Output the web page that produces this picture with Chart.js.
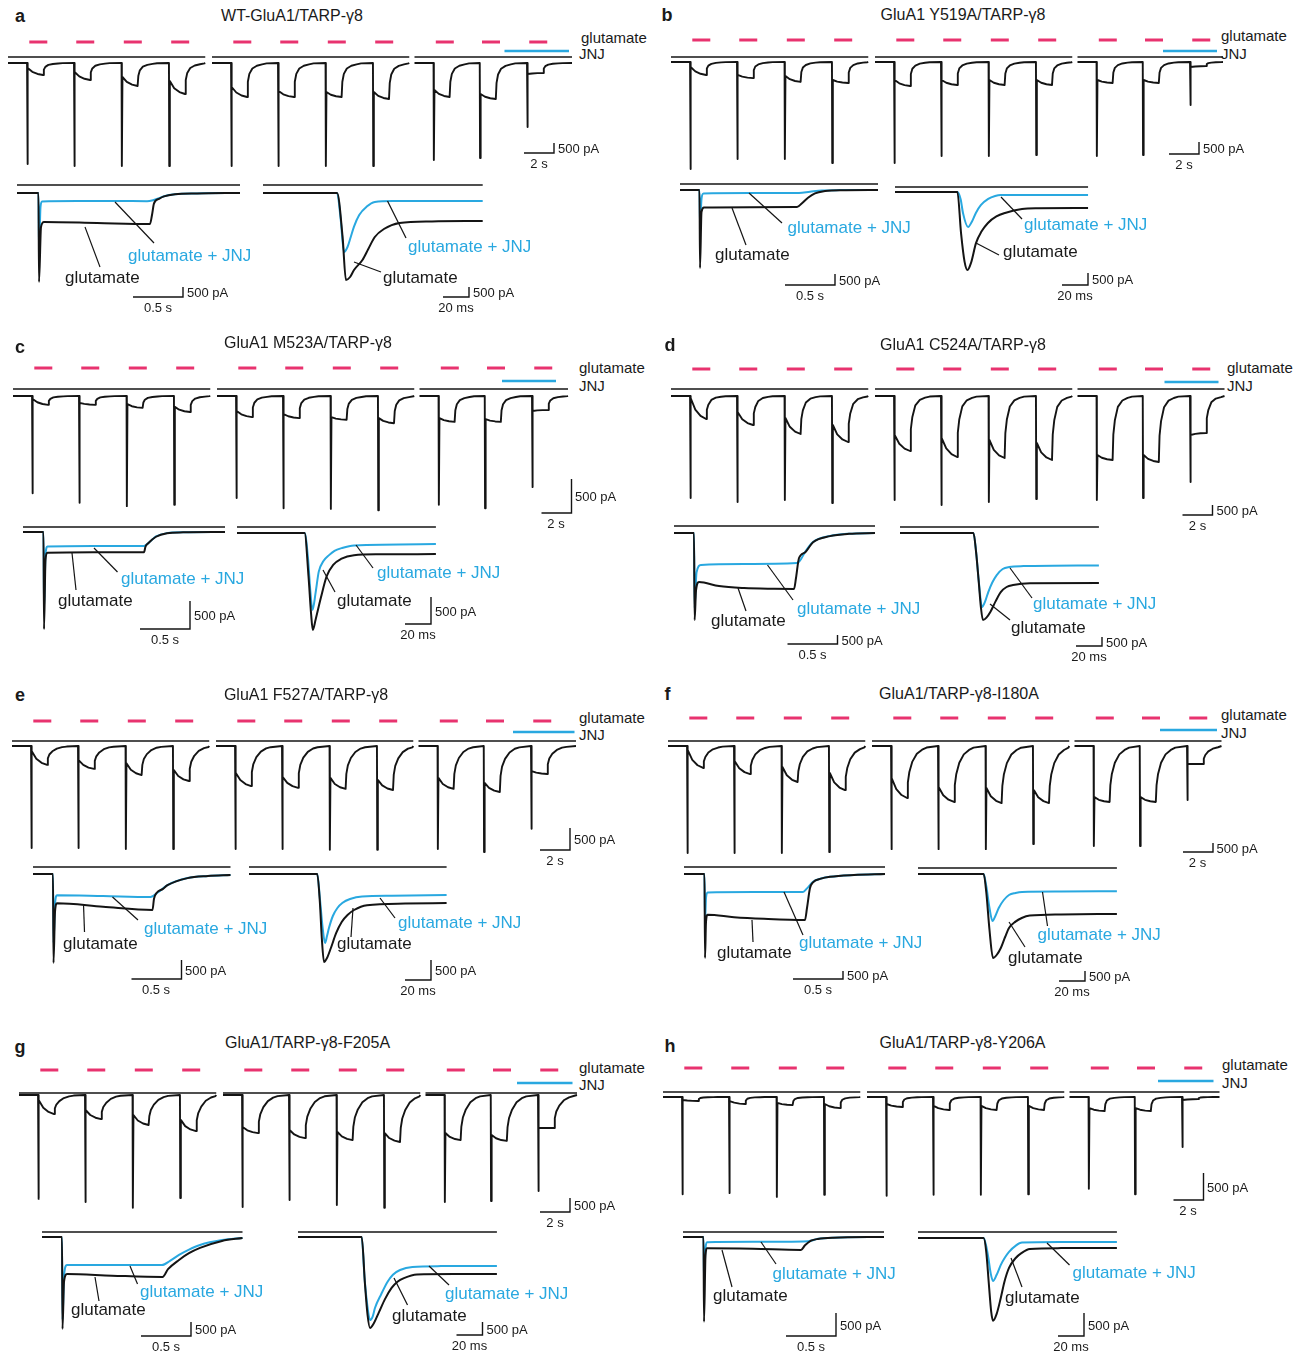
<!DOCTYPE html>
<html lang="en">
<head>
  <meta charset="UTF-8" />
  <title>GluA1/TARP-γ8 currents with JNJ</title>
  <script src="https://cdn.jsdelivr.net/npm/chart.js"></script>
  <style>
    html, body { margin: 0; padding: 0; background: #fff; overflow: hidden; }
    #page {
      position: relative; width: 1307px; height: 1355px;
      font-family: 'Liberation Sans', Arial, sans-serif; color: #1a1a1a;
    }
    #page canvas { position: absolute; }
    .txt { position: absolute; white-space: nowrap; line-height: 1; transform: translateY(-50%); }
    .mid { transform: translate(-50%, -50%); }
  </style>
</head>
<body>
<div id="page"></div>

<script>
  // ---- protocol (shared by all panels), seconds ----
  const sweepStarts = [0, 13.6, 27.1];
  const sweepLengths = [13.15, 13.15];
  const pulseOnsets = [[1.27, 4.4, 7.57, 10.73], [1.27, 4.4, 7.57, 10.73], [1.27, 4.35, 7.5]];
  const glutDuration = 1.07;
  // plateau decay during glutamate: [time after onset, fraction of ssStart->ssEnd]
  const ssShape = [[0.06, 0], [0.35, 0.55], [0.7, 0.85], [1.07, 1]];
  const recoveryTimes = [0, 0.05, 0.15, 0.35, 0.65, 1.0, 1.3];

  // ---- a  WT-GluA1/TARP-γ8 (pA) ----
  const aPeaks = [-5050, -5150, -5150, -5150, -5150, -5150, -5150, -5150, -4850, -4750, -3200];
  const aSsStart = [-250, -450, -700, -900, -1200, -1400, -1450, -1450, -1350, -1550, -550];
  const aSsEnd = [-600, -850, -1150, -1550, -1700, -1700, -1700, -1800, -1700, -1800, -500];
  const aRecovery = [1, 0.55, 0.32, 0.16, 0.08, 0.04, 0.01];
  const aSweep3 = 10.5;
  const aJnj = [6.0, 10.3];
  const aSlowJnj = [[0,0],[0.215,0],[0.22,-2950],[0.235,-700],[0.25,-420],[0.6,-400],[1.0,-400],[1.3,-410],[1.36,-360],[1.42,-260],[1.47,-160],[1.58,-60],[1.8,-20],[2.23,0]];
  const aSlowGlu = [[0,0],[0.215,0],[0.22,-4450],[0.24,-1700],[0.27,-1450],[0.8,-1500],[1.33,-1550],[1.35,-1100],[1.37,-520],[1.42,-290],[1.47,-170],[1.58,-65],[1.8,-22],[2.23,0]];
  const aFastJnj = [[0,0],[57,0],[59.8,-1350],[62.3,-2950],[65,-2700],[67.5,-2200],[70,-1680],[74,-1100],[79.8,-680],[86,-450],[100,-400],[169,-400]];
  const aFastGlu = [[0,0],[57,0],[61.2,-2180],[63.8,-4350],[67,-4200],[70,-3850],[76.5,-3350],[81,-2800],[86,-2200],[93,-1800],[105,-1500],[130,-1420],[169,-1400]];

  // ---- b  GluA1 Y519A/TARP-γ8 ----
  const bPeaks = [-4460, -4040, -4040, -4210, -4210, -3920, -3920, -3880, -3920, -3880, -1790];
  const bSsStart = [-210, -540, -580, -750, -750, -750, -750, -750, -750, -750, -210];
  const bSsEnd = [-540, -670, -830, -875, -1000, -960, -960, -960, -875, -875, -170];
  const bRecovery = [1, 0.5, 0.28, 0.15, 0.07, 0.03, 0.01];
  const bSweep3 = 9.7;
  const bJnj = [5.7, 9.3];
  const bSlowJnj = [[0,0],[0.195,0],[0.2,-1640],[0.215,-400],[0.235,-160],[0.7,-140],[1.19,-140],[1.3,-80],[1.42,-20],[1.6,-5],[1.98,0]];
  const bSlowGlu = [[0,0],[0.195,0],[0.2,-3550],[0.215,-1000],[0.24,-800],[0.7,-780],[1.17,-775],[1.22,-600],[1.28,-350],[1.35,-150],[1.45,-50],[1.6,-10],[1.98,0]];
  const bFastJnj = [[0,0],[48,0],[50.5,-300],[52.3,-875],[56.2,-1460],[59,-1250],[62.2,-875],[66,-550],[71.7,-290],[77,-170],[81.5,-130],[110,-125],[148.5,-125]];
  const bFastGlu = [[0,0],[48,0],[50.8,-1710],[53.5,-2900],[55.8,-3250],[58.5,-2950],[62.3,-2130],[66.5,-1650],[71.5,-1290],[78,-1020],[84.6,-875],[97.7,-710],[110,-680],[148.5,-670]];

  // ---- c  GluA1 M523A/TARP-γ8 ----
  const cPeaks = [-1430, -1570, -1620, -1600, -1500, -1650, -1660, -1680, -1600, -1650, -1340];
  const cSsStart = [-45, -100, -120, -160, -220, -265, -310, -325, -325, -340, -220];
  const cSsEnd = [-130, -130, -175, -235, -310, -325, -350, -400, -380, -380, -205];
  const cRecovery = [1, 0.55, 0.32, 0.16, 0.08, 0.04, 0.01];
  const cSweep3 = 9.9;
  const cJnj = [5.5, 9.1];
  const cSlowJnj = [[0,0],[0.205,0],[0.21,-1395],[0.225,-400],[0.245,-260],[0.7,-250],[1.21,-250],[1.27,-170],[1.33,-80],[1.44,-20],[1.6,-5],[2.02,0]];
  const cSlowGlu = [[0,0],[0.205,0],[0.21,-1735],[0.225,-500],[0.245,-370],[0.7,-360],[1.21,-360],[1.225,-260],[1.25,-205],[1.33,-85],[1.44,-22],[1.6,-6],[2.02,0]];
  const cFastJnj = [[0,0],[52,0],[54.6,-460],[56.5,-1100],[58.1,-1425],[60.5,-1100],[62.9,-715],[66.5,-520],[70.8,-410],[75,-330],[80.5,-280],[90,-230],[153,-205]];
  const cFastGlu = [[0,0],[52,0],[55,-800],[57,-1500],[58.3,-1795],[60.5,-1600],[64.5,-1200],[69,-800],[74,-590],[80,-480],[90,-410],[110,-395],[153,-390]];

  // ---- d  GluA1 C524A/TARP-γ8 ----
  const dPeaks = [-5100, -5300, -5200, -5350, -5200, -5450, -5300, -5150, -5200, -5100, -4300];
  const dSsStart = [-100, -800, -1100, -1450, -1950, -2100, -2200, -2350, -2950, -2950, -1950];
  const dSsEnd = [-1150, -1450, -1900, -2300, -2750, -3050, -3100, -3200, -3200, -3300, -1850];
  const dRecovery = [1, 0.6, 0.38, 0.17, 0.07, 0.03, 0.01];
  const dSweep3 = 9.8;
  const dJnj = [5.8, 9.4];
  const dSlowJnj = [[0,0],[0.2,0],[0.206,-4170],[0.225,-2200],[0.27,-1780],[0.7,-1720],[1.23,-1670],[1.27,-1450],[1.31,-1060],[1.39,-500],[1.56,-170],[1.75,-40],[2.01,0]];
  const dSlowGlu = [[0,0],[0.2,0],[0.206,-4840],[0.22,-3200],[0.25,-2720],[0.45,-2950],[0.7,-3060],[1.0,-3100],[1.2,-3110],[1.22,-2500],[1.25,-1390],[1.31,-1080],[1.39,-510],[1.56,-175],[1.75,-42],[2.01,0]];
  const dFastJnj = [[0,0],[56.5,0],[58.5,-1000],[60.5,-2600],[63.1,-4110],[65.5,-3800],[67.9,-3280],[71,-2750],[74.4,-2335],[79,-2000],[84,-1890],[95,-1840],[153,-1800]];
  const dFastGlu = [[0,0],[56.5,0],[58.5,-1050],[60.5,-2650],[62.2,-4100],[63.8,-4840],[66.5,-4700],[69.5,-4390],[73.5,-3800],[77.5,-3280],[82,-3000],[87,-2890],[100,-2790],[153,-2780]];

  // ---- e  GluA1 F527A/TARP-γ8 ----
  const ePeaks = [-2320, -2320, -2340, -2340, -2340, -2340, -2360, -2360, -2340, -2410, -1880];
  const eSsStart = [-115, -320, -390, -545, -610, -700, -725, -770, -725, -840, -570];
  const eSsEnd = [-430, -520, -660, -795, -910, -950, -975, -1000, -975, -1045, -635];
  const eRecovery = [1, 0.65, 0.45, 0.28, 0.14, 0.06, 0.03];
  const eSweep3 = 10.5;
  const eJnj = [6.3, 10.4];
  const eSlowJnj = [[0,0],[0.2,0],[0.205,-1815],[0.22,-800],[0.24,-560],[0.7,-580],[1.175,-605],[1.25,-480],[1.345,-290],[1.545,-105],[1.75,-50],[1.975,-26]];
  const eSlowGlu = [[0,0],[0.2,0],[0.205,-2340],[0.22,-1000],[0.24,-770],[0.7,-860],[1.195,-945],[1.21,-650],[1.235,-500],[1.3,-390],[1.345,-295],[1.545,-108],[1.75,-52],[1.975,-26]];
  const eFastJnj = [[0,0],[52.5,0],[54.5,-600],[56.5,-1300],[58.5,-1725],[60,-1550],[61.5,-1350],[64.5,-1050],[68,-850],[72,-720],[77.7,-625],[87,-560],[110,-545],[152,-525]];
  const eFastGlu = [[0,0],[52.5,0],[54.5,-700],[56,-1600],[57.7,-2200],[60,-2100],[63,-1850],[67,-1480],[71.3,-1200],[76,-1020],[80.8,-900],[90.8,-780],[120,-740],[152,-725]];

  // ---- f  GluA1/TARP-γ8-I180A ----
  const fPeaks = [-5950, -5950, -5950, -5890, -5730, -5730, -5730, -5450, -5560, -5560, -3000];
  const fSsStart = [-220, -835, -1170, -1500, -1780, -2280, -2330, -2450, -2840, -2840, -1000];
  const fSsEnd = [-1220, -1560, -2000, -2450, -2890, -3110, -3170, -3170, -3110, -3110, -1000];
  const fRecovery = [1, 0.7, 0.5, 0.3, 0.15, 0.07, 0.03];
  const fSweep3 = 9.8;
  const fJnj = [5.7, 9.5];
  const fSlowJnj = [[0,0],[0.205,0],[0.21,-3000],[0.22,-1500],[0.235,-1150],[0.7,-1125],[1.19,-1125],[1.23,-900],[1.29,-480],[1.37,-280],[1.46,-170],[1.7,-60],[2.01,0]];
  const fSlowGlu = [[0,0],[0.205,0],[0.21,-5250],[0.22,-3000],[0.235,-2550],[0.5,-2700],[0.8,-2800],[1.21,-2875],[1.23,-2125],[1.26,-875],[1.29,-520],[1.37,-290],[1.46,-175],[1.7,-62],[2.01,0]];
  const fFastJnj = [[0,0],[50.5,0],[52.5,-600],[55,-1700],[57.3,-2350],[59.5,-2100],[62.1,-1700],[66,-1300],[70,-1050],[75,-950],[80,-900],[110,-880],[153,-860]];
  const fFastGlu = [[0,0],[50.5,0],[52.5,-900],[55,-2800],[57.7,-4200],[60.5,-4050],[63.7,-3700],[67,-3150],[70,-2700],[75,-2380],[79.8,-2200],[86,-2080],[110,-2020],[153,-2000]];

  // ---- g  GluA1/TARP-γ8-F205A ----
  const gPeaks = [-3710, -3820, -4030, -3680, -4000, -3750, -3930, -4030, -3820, -3790, -3430];
  const gSsStart = [-180, -535, -715, -890, -1140, -1250, -1320, -1360, -1360, -1430, -1180];
  const gSsEnd = [-680, -860, -1070, -1290, -1360, -1540, -1610, -1680, -1610, -1640, -1180];
  const gRecovery = [1, 0.7, 0.5, 0.32, 0.16, 0.07, 0.03];
  const gSweep3 = 10.1;
  const gJnj = [6.1, 9.8];
  const gSlowJnj = [[0,0],[0.2,0],[0.205,-2960],[0.22,-1400],[0.25,-1000],[0.7,-1000],[1.2,-1000],[1.28,-850],[1.37,-640],[1.47,-450],[1.58,-285],[1.8,-110],[2.005,-35]];
  const gSlowGlu = [[0,0],[0.2,0],[0.205,-3285],[0.22,-1600],[0.25,-1320],[0.7,-1380],[1.205,-1430],[1.26,-1150],[1.37,-820],[1.47,-580],[1.58,-390],[1.8,-140],[2.005,-35]];
  const gFastJnj = [[0,0],[49,0],[51.2,-1580],[53.5,-2700],[55.4,-3195],[57.5,-3050],[59.2,-2730],[64,-2200],[68.8,-1730],[73,-1450],[78.5,-1270],[88,-1150],[110,-1120],[153,-1115]];
  const gFastGlu = [[0,0],[49,0],[51.5,-1800],[53.5,-3000],[55.4,-3500],[58,-3350],[62.3,-2890],[67,-2380],[72,-1960],[76.5,-1720],[81.5,-1580],[91.5,-1440],[120,-1425],[153,-1425]];

  // ---- h  GluA1/TARP-γ8-Y206A ----
  const hPeaks = [-1800, -1780, -1850, -1810, -1830, -1810, -1810, -1800, -1700, -1800, -925];
  const hSsStart = [-55, -75, -110, -130, -130, -165, -165, -165, -205, -205, -55];
  const hSsEnd = [-75, -130, -150, -205, -185, -240, -240, -240, -260, -260, -40];
  const hRecovery = [1, 0.5, 0.25, 0.12, 0.06, 0.03, 0.01];
  const hSweep3 = 10.0;
  const hJnj = [5.9, 9.6];
  const hSlowJnj = [[0,0],[0.205,0],[0.21,-980],[0.225,-250],[0.24,-115],[0.7,-105],[1.25,-90],[1.35,-40],[1.5,-15],[2.01,0]];
  const hSlowGlu = [[0,0],[0.205,0],[0.21,-1845],[0.225,-400],[0.24,-245],[0.7,-255],[1.18,-280],[1.22,-180],[1.28,-80],[1.35,-42],[1.5,-16],[2.01,0]];
  const hFastJnj = [[0,0],[50.5,0],[52.5,-180],[54.1,-430],[56,-780],[57.7,-935],[60.5,-800],[63.7,-585],[67,-420],[70,-300],[75,-170],[80,-100],[110,-88],[153,-87]];
  const hFastGlu = [[0,0],[50.5,0],[52.5,-300],[54.5,-1000],[56.3,-1600],[57.7,-1800],[60.5,-1650],[63.7,-1300],[66.5,-950],[70,-650],[75,-440],[79.8,-325],[86,-240],[110,-220],[153,-217]];

  const panels = [
    { id: 'a', title: 'WT-GluA1/TARP-γ8', peaks: aPeaks, ssStart: aSsStart, ssEnd: aSsEnd, recovery: aRecovery, sweep3: aSweep3, jnj: aJnj, slowGlu: aSlowGlu, slowJnj: aSlowJnj, fastGlu: aFastGlu, fastJnj: aFastJnj },
    { id: 'b', title: 'GluA1 Y519A/TARP-γ8', peaks: bPeaks, ssStart: bSsStart, ssEnd: bSsEnd, recovery: bRecovery, sweep3: bSweep3, jnj: bJnj, slowGlu: bSlowGlu, slowJnj: bSlowJnj, fastGlu: bFastGlu, fastJnj: bFastJnj },
    { id: 'c', title: 'GluA1 M523A/TARP-γ8', peaks: cPeaks, ssStart: cSsStart, ssEnd: cSsEnd, recovery: cRecovery, sweep3: cSweep3, jnj: cJnj, slowGlu: cSlowGlu, slowJnj: cSlowJnj, fastGlu: cFastGlu, fastJnj: cFastJnj },
    { id: 'd', title: 'GluA1 C524A/TARP-γ8', peaks: dPeaks, ssStart: dSsStart, ssEnd: dSsEnd, recovery: dRecovery, sweep3: dSweep3, jnj: dJnj, slowGlu: dSlowGlu, slowJnj: dSlowJnj, fastGlu: dFastGlu, fastJnj: dFastJnj },
    { id: 'e', title: 'GluA1 F527A/TARP-γ8', peaks: ePeaks, ssStart: eSsStart, ssEnd: eSsEnd, recovery: eRecovery, sweep3: eSweep3, jnj: eJnj, slowGlu: eSlowGlu, slowJnj: eSlowJnj, fastGlu: eFastGlu, fastJnj: eFastJnj },
    { id: 'f', title: 'GluA1/TARP-γ8-I180A', peaks: fPeaks, ssStart: fSsStart, ssEnd: fSsEnd, recovery: fRecovery, sweep3: fSweep3, jnj: fJnj, slowGlu: fSlowGlu, slowJnj: fSlowJnj, fastGlu: fFastGlu, fastJnj: fFastJnj },
    { id: 'g', title: 'GluA1/TARP-γ8-F205A', peaks: gPeaks, ssStart: gSsStart, ssEnd: gSsEnd, recovery: gRecovery, sweep3: gSweep3, jnj: gJnj, slowGlu: gSlowGlu, slowJnj: gSlowJnj, fastGlu: gFastGlu, fastJnj: gFastJnj },
    { id: 'h', title: 'GluA1/TARP-γ8-Y206A', peaks: hPeaks, ssStart: hSsStart, ssEnd: hSsEnd, recovery: hRecovery, sweep3: hSweep3, jnj: hJnj, slowGlu: hSlowGlu, slowJnj: hSlowJnj, fastGlu: hFastGlu, fastJnj: hFastJnj }
  ];

  // ---- page layout (px); mv = length of the 500 pA bar, sec = length of 1 s on top row ----
  const layout = {
    a: { letter: [20, 16], title: [292, 16], side: [[581, 37], [579, 53]],
         top: { x0: 8, base: 63, pinkY: 42, jnjY: 51, barY: 57, mv: 10, scale: [554, 153] },
         slow: { x0: 17, base: 193, barY: 185, mv: 10, scale: [183, 297], jnjLabel: [128, 255], jnjLead: [115, 202, 154, 243], gluLabel: [65, 277], gluLead: [85, 227, 100, 267] },
         fast: { x0: 263, base: 193, barY: 185, mv: 10, scale: [469, 297], jnjLabel: [408, 246], jnjLead: [387.5, 201, 406, 238], gluLabel: [383, 277], gluLead: [354, 262, 381, 272] } },
    b: { letter: [667, 15], title: [963, 15], side: [[1221, 35], [1221, 53]],
         top: { x0: 671, base: 62, pinkY: 40, jnjY: 51, barY: 57, mv: 12, scale: [1199, 154] },
         slow: { x0: 680, base: 190, barY: 184, mv: 11, scale: [835, 285], jnjLabel: [787.5, 227], jnjLead: [749, 193, 782, 223], gluLabel: [715, 254], gluLead: [732, 208, 746, 245] },
         fast: { x0: 895, base: 192, barY: 187, mv: 12, scale: [1088, 285], jnjLabel: [1024, 224], jnjLead: [1001, 197, 1022, 219], gluLabel: [1003, 251], gluLead: [976, 243, 999, 255] } },
    c: { letter: [20, 347], title: [308, 343], side: [[579, 367], [579, 385]],
         top: { x0: 12.5, base: 396, pinkY: 368, jnjY: 381, barY: 389, mv: 34, scale: [571, 513] },
         slow: { x0: 23, base: 532, barY: 527, mv: 28, scale: [190, 629], jnjLabel: [121, 578], jnjLead: [94, 548, 117.5, 572], gluLabel: [58, 600], gluLead: [72, 553, 76, 590] },
         fast: { x0: 237, base: 533, barY: 527, mv: 27, scale: [431, 624], jnjLabel: [377, 572], jnjLead: [356, 545, 373, 568], gluLabel: [337, 600], gluLead: [323, 570, 335, 592] } },
    d: { letter: [670, 345], title: [963, 345], side: [[1227, 367], [1227, 385]],
         top: { x0: 671, base: 396, pinkY: 369, jnjY: 382, barY: 389, mv: 10, scale: [1212.5, 515] },
         slow: { x0: 674, base: 533, barY: 526, mv: 9, scale: [837.5, 644], jnjLabel: [797, 608], jnjLead: [767.5, 565, 793, 600], gluLabel: [711, 620], gluLead: [738, 588, 746, 611] },
         fast: { x0: 900, base: 533, barY: 527, mv: 9, scale: [1102, 646], jnjLabel: [1033, 603], jnjLead: [1010, 568, 1032, 598], gluLabel: [1011, 627], gluLead: [990, 604, 1010, 620] } },
    e: { letter: [20, 695], title: [306, 695], side: [[579, 717], [579, 734]],
         top: { x0: 12, base: 746, pinkY: 721, jnjY: 732, barY: 741, mv: 22, scale: [570, 850] },
         slow: { x0: 32.5, base: 874, barY: 867, mv: 19, scale: [181, 979], jnjLabel: [144, 928], jnjLead: [112, 897, 137.5, 920], gluLabel: [63, 943], gluLead: [83, 904, 84, 932] },
         fast: { x0: 249, base: 874, barY: 867, mv: 20, scale: [431, 980], jnjLabel: [398, 922], jnjLead: [380, 898, 395, 918], gluLabel: [337, 943], gluLead: [353, 908, 351, 937] } },
    f: { letter: [667.5, 694], title: [959, 694], side: [[1221, 714], [1221, 732]],
         top: { x0: 667.5, base: 746, pinkY: 718, jnjY: 730, barY: 741, mv: 9, scale: [1212.5, 852] },
         slow: { x0: 684, base: 874, barY: 867, mv: 8, scale: [843, 979], jnjLabel: [799, 942], jnjLead: [784, 892, 803, 935], gluLabel: [717, 952], gluLead: [752, 920, 753, 942] },
         fast: { x0: 918, base: 874, barY: 868, mv: 10, scale: [1085, 981], jnjLabel: [1037.5, 934], jnjLead: [1042.5, 892, 1047.5, 926], gluLabel: [1008, 957], gluLead: [1009, 922, 1025, 947] } },
    g: { letter: [20, 1047], title: [307.5, 1043], side: [[579, 1067], [579, 1084]],
         top: { x0: 19, base: 1095, pinkY: 1070, jnjY: 1083, barY: 1093, mv: 14, scale: [570, 1212] },
         slow: { x0: 42, base: 1237, barY: 1232, mv: 14, scale: [191, 1336], jnjLabel: [140, 1291], jnjLead: [130, 1266, 137.5, 1284], gluLabel: [71, 1309], gluLead: [95, 1277, 99, 1301] },
         fast: { x0: 298, base: 1237, barY: 1232, mv: 13, scale: [482.5, 1335], jnjLabel: [445, 1293], jnjLead: [429, 1266, 449, 1285], gluLabel: [392, 1315], gluLead: [394, 1278, 407.5, 1305] } },
    h: { letter: [670, 1046], title: [962.5, 1043], side: [[1222, 1064], [1222, 1082]],
         top: { x0: 662.5, base: 1097, pinkY: 1068, jnjY: 1081, barY: 1092, mv: 27, scale: [1203, 1200] },
         slow: { x0: 683, base: 1237, barY: 1232, mv: 23, scale: [836, 1336], jnjLabel: [772.5, 1273], jnjLead: [761, 1242, 776, 1264], gluLabel: [713, 1295], gluLead: [722, 1250, 732, 1287] },
         fast: { x0: 918, base: 1238, barY: 1232, mv: 23, scale: [1084, 1336], jnjLabel: [1072.5, 1272], jnjLead: [1047, 1243, 1069.5, 1265], gluLabel: [1005, 1297], gluLead: [1011, 1258, 1022, 1287] } }
  };

  const BLUE = '#29a8e0', PINK = '#e8336f', INK = '#141414';
  const pxTop = 15, pxSlow = 100, pxFast = 1.3;   // px per s, s, ms
  const dashSpan = [0.15, 1.35];
  const pulseIndex = [0, 4, 8];

  const page = document.getElementById('page');

  function addText(text, x, y, size, opts = {}) {
    const d = document.createElement('div');
    d.className = 'txt' + (opts.center ? ' mid' : '');
    d.textContent = text;
    d.style.left = x + 'px';
    d.style.top = y + 'px';
    d.style.fontSize = size + 'px';
    if (opts.bold) d.style.fontWeight = 'bold';
    if (opts.color) d.style.color = opts.color;
    page.appendChild(d);
  }

  function line(pts, color, width, smooth) {
    return {
      data: pts.map(([x, y]) => ({ x, y })),
      borderColor: color, borderWidth: width, pointRadius: 0,
      cubicInterpolationMode: smooth ? 'monotone' : 'default', tension: 0,
      fill: false, clip: false
    };
  }

  function hline(ctx, x1, x2, y) {
    ctx.beginPath(); ctx.moveTo(x1, y); ctx.lineTo(x2, y); ctx.stroke();
  }

  function scaleBar(chart, rect, corner, xLen, yLen) {
    const { ctx, scales: { x, y } } = chart;
    const w = x.getPixelForValue(xLen) - x.getPixelForValue(0);
    const h = y.getPixelForValue(0) - y.getPixelForValue(yLen);
    const cx = corner[0] - rect.x, cy = corner[1] - rect.y;
    ctx.strokeStyle = INK; ctx.lineWidth = 1.4;
    ctx.beginPath(); ctx.moveTo(cx - w, cy); ctx.lineTo(cx, cy); ctx.lineTo(cx, cy - h); ctx.stroke();
  }

  function traceChart(rect, x0, base, pxX, pxY, datasets, deco) {
    const c = document.createElement('canvas');
    c.width = rect.w; c.height = rect.h;
    c.style.left = rect.x + 'px'; c.style.top = rect.y + 'px';
    c.style.width = rect.w + 'px'; c.style.height = rect.h + 'px';
    page.appendChild(c);
    return new Chart(c, {
      type: 'line',
      data: { datasets },
      options: {
        responsive: false, animation: false, events: [],
        layout: { padding: 0 },
        plugins: { legend: { display: false }, tooltip: { enabled: false } },
        elements: { line: { borderJoinStyle: 'round' } },
        scales: {
          x: { type: 'linear', display: false, min: (rect.x - x0) / pxX, max: (rect.x + rect.w - x0) / pxX },
          y: { type: 'linear', display: false, min: -(rect.y + rect.h - base) / pxY, max: (base - rect.y) / pxY }
        }
      },
      plugins: [{ id: 'deco', afterDatasetsDraw: chart => deco(chart, rect) }]
    });
  }

  function sweepTrace(p, s) {
    const start = sweepStarts[s];
    const end = start + (s < 2 ? sweepLengths[s] : p.sweep3);
    const pts = [[start, 0]];
    pulseOnsets[s].forEach((on, i) => {
      const k = pulseIndex[s] + i;
      const t0 = start + on;
      pts.push([t0, 0], [t0 + 0.02, p.peaks[k]]);
      ssShape.forEach(([dt, f]) => pts.push([t0 + dt, p.ssStart[k] + (p.ssEnd[k] - p.ssStart[k]) * f]));
      recoveryTimes.forEach((rt, j) => {
        const t = t0 + glutDuration + rt;
        if (j > 0 && t < end) pts.push([t, p.ssEnd[k] * p.recovery[j]]);
      });
    });
    pts.push([end, 0]);
    return pts;
  }

  function drawTop(p, L) {
    const T = L.top;
    const pxY = T.mv / 500;
    const rect = { x: T.x0 - 6, y: T.base - 35, w: 600, h: 185 };
    const sweeps = [0, 1, 2].map(s => [sweepStarts[s], sweepStarts[s] + (s < 2 ? sweepLengths[s] : p.sweep3)]);
    const datasets = [0, 1, 2].map(s => line(sweepTrace(p, s), INK, 1.9, false));
    traceChart(rect, T.x0, T.base, pxTop, pxY, datasets, (chart, r) => {
      const { ctx, scales: { x } } = chart;
      const X = v => x.getPixelForValue(v);
      ctx.save();
      ctx.lineCap = 'butt';
      ctx.strokeStyle = INK; ctx.lineWidth = 1.6;
      sweeps.forEach(([s, e]) => hline(ctx, X(s), X(e), T.barY - r.y));
      ctx.strokeStyle = PINK; ctx.lineWidth = 3;
      pulseOnsets.forEach((ons, s) => ons.forEach(on => {
        const t = sweepStarts[s] + on;
        hline(ctx, X(t + dashSpan[0]), X(t + dashSpan[1]), T.pinkY - r.y);
      }));
      ctx.strokeStyle = BLUE; ctx.lineWidth = 2.6;
      hline(ctx, X(sweepStarts[2] + p.jnj[0]), X(sweepStarts[2] + p.jnj[1]), T.jnjY - r.y);
      scaleBar(chart, r, T.scale, 2, 500);
      ctx.restore();
    });
    addText('500 pA', T.scale[0] + 4, T.scale[1] - T.mv / 2, 13);
    addText('2 s', T.scale[0] - pxTop, T.scale[1] + 10, 13, { center: true });
  }

  function drawOverlay(glu, jnj, B, pxX, xLen, xLabel, w) {
    const pxY = B.mv / 500;
    const rect = { x: B.x0 - 10, y: B.barY - 12, w, h: 150 };
    const span = [glu[0][0], glu[glu.length - 1][0]];
    traceChart(rect, B.x0, B.base, pxX, pxY, [line(glu, INK, 2, true), line(jnj, BLUE, 2, true)], (chart, r) => {
      const { ctx, scales: { x } } = chart;
      ctx.save();
      ctx.strokeStyle = INK; ctx.lineWidth = 1.6;
      hline(ctx, x.getPixelForValue(span[0]), x.getPixelForValue(span[1]), B.barY - r.y);
      ctx.lineWidth = 1.2;
      [B.jnjLead, B.gluLead].forEach(([x1, y1, x2, y2]) => {
        ctx.beginPath(); ctx.moveTo(x1 - r.x, y1 - r.y); ctx.lineTo(x2 - r.x, y2 - r.y); ctx.stroke();
      });
      scaleBar(chart, r, B.scale, xLen, 500);
      ctx.restore();
    });
    addText('glutamate + JNJ', B.jnjLabel[0], B.jnjLabel[1], 17, { color: BLUE });
    addText('glutamate', B.gluLabel[0], B.gluLabel[1], 17);
    addText('500 pA', B.scale[0] + 4, B.scale[1] - B.mv / 2, 13);
    addText(xLabel, B.scale[0] - xLen * pxX / 2, B.scale[1] + 10, 13, { center: true });
  }

  panels.forEach(p => {
    const L = layout[p.id];
    addText(p.id, L.letter[0], L.letter[1], 18, { bold: true, center: true });
    addText(p.title, L.title[0], L.title[1], 16, { center: true });
    addText('glutamate', L.side[0][0], L.side[0][1], 15);
    addText('JNJ', L.side[1][0], L.side[1][1], 15);
    drawTop(p, L);
    drawOverlay(p.slowGlu, p.slowJnj, L.slow, pxSlow, 0.5, '0.5 s', 270);
    drawOverlay(p.fastGlu, p.fastJnj, L.fast, pxFast, 20, '20 ms', 300);
  });
</script>
</body>
</html>
